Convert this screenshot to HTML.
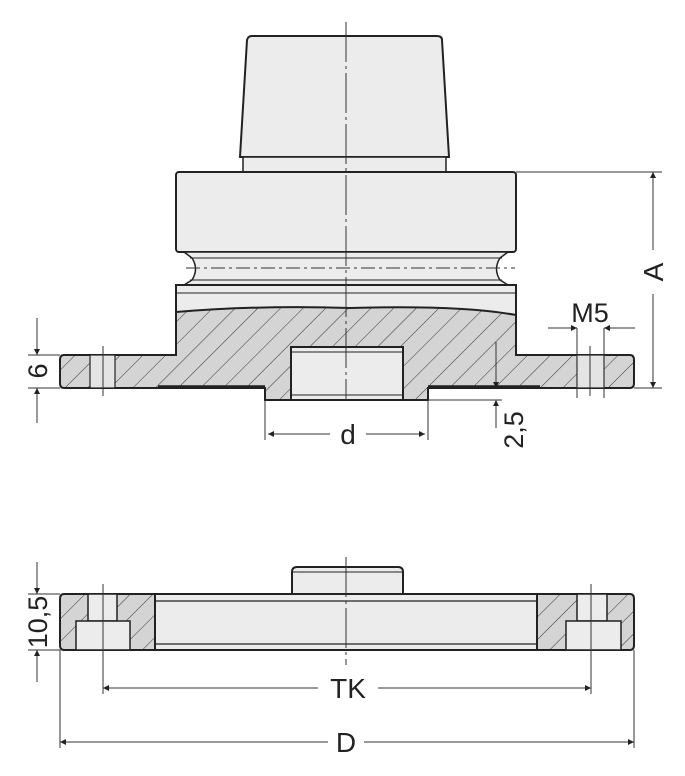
<!DOCTYPE html>
<html><head><meta charset="utf-8"><style>
html,body{margin:0;padding:0;background:#fff;}
svg{display:block;}
text{font-family:"Liberation Sans",sans-serif;fill:#222;}
</style></head><body>
<svg width="685" height="776" viewBox="0 0 685 776" xmlns="http://www.w3.org/2000/svg">
<defs>
<pattern id="h" patternUnits="userSpaceOnUse" width="16" height="16" patternTransform="rotate(45)">
<rect width="16" height="16" fill="#d4d4d4"/>
<line x1="0" y1="0" x2="0" y2="16" stroke="#333" stroke-width="1"/>
</pattern>
<marker id="a" viewBox="0 0 10 10" refX="10" refY="5" markerWidth="11" markerHeight="6" orient="auto-start-reverse" markerUnits="userSpaceOnUse"><path d="M0,0L10,5L0,10z" fill="#222"/></marker>
</defs>
<g stroke="#222" stroke-width="2" fill="#ececec">
<path d="M240,157 L247,40 Q248,36 252,36 L437,36 Q442,36 442,40 L449,157 Z"/>
<rect x="243" y="157" width="203" height="15" stroke-width="1.5"/>
<rect x="176" y="172" width="340" height="80" rx="3"/>
<path d="M184,252 L192,258 Q199,269 192,280 L184,285 L508,285 L500,280 Q493,269 500,258 L508,252 Z" stroke-width="1.5"/>
<line x1="190" y1="258" x2="502" y2="258" stroke-width="1"/>
<line x1="190" y1="280" x2="502" y2="280" stroke-width="1"/>
<rect x="176" y="285" width="340" height="70"/>
<line x1="176" y1="293" x2="516" y2="293" stroke-width="1"/>
<path d="M176,312 Q260,305 350,308 Q460,305 516,315 L516,355 L630,355 Q634,355 634,360 L634,383 Q634,388 630,388 L428,388 L428,400 L265,400 L265,388 L64,388 Q60,388 60,383 L60,360 Q60,355 64,355 L176,355 Z" fill="url(#h)"/>
<rect x="291" y="347" width="112" height="53" fill="#ececec"/>
<line x1="291" y1="352" x2="403" y2="352" stroke-width="1"/>
<line x1="291" y1="395" x2="403" y2="395" stroke-width="1"/>
<rect x="90" y="355" width="25" height="33" fill="#e4e4e4" stroke-width="1.2"/>
<rect x="577" y="355" width="27" height="33" fill="#e4e4e4" stroke-width="1.2"/>
<line x1="158" y1="387" x2="265" y2="387" stroke-width="3.5"/>
<line x1="428" y1="387" x2="540" y2="387" stroke-width="3.5"/>
</g>
<g stroke="#333" stroke-width="1" fill="none">
<line x1="103" y1="346" x2="103" y2="396"/>
<line x1="590" y1="346" x2="590" y2="396"/>
<line x1="346" y1="22" x2="346" y2="400" stroke-dasharray="40,4,3,4"/>
<line x1="186" y1="268" x2="515" y2="268" stroke-dasharray="14,4,3,4"/>
<line x1="516" y1="172" x2="662" y2="172"/>
<line x1="634" y1="388" x2="662" y2="388"/>
<line x1="653" y1="172" x2="653" y2="250" marker-start="url(#a)"/>
<line x1="653" y1="294" x2="653" y2="388" marker-end="url(#a)"/>
<line x1="577" y1="328" x2="577" y2="398"/>
<line x1="604" y1="328" x2="604" y2="398"/>
<line x1="548" y1="328" x2="577" y2="328" marker-end="url(#a)"/>
<line x1="635" y1="328" x2="604" y2="328" marker-end="url(#a)"/>
<line x1="28" y1="355" x2="60" y2="355"/>
<line x1="28" y1="388" x2="60" y2="388"/>
<line x1="37" y1="318" x2="37" y2="355" marker-end="url(#a)"/>
<line x1="37" y1="423" x2="37" y2="388" marker-end="url(#a)"/>
<line x1="265" y1="400" x2="265" y2="440"/>
<line x1="428" y1="400" x2="428" y2="440"/>
<line x1="268" y1="434" x2="330" y2="434" marker-start="url(#a)"/>
<line x1="366" y1="434" x2="425" y2="434" marker-end="url(#a)"/>
<line x1="428" y1="400" x2="502" y2="400"/>
<line x1="496" y1="342" x2="496" y2="388" marker-end="url(#a)"/>
<line x1="496" y1="428" x2="496" y2="400" marker-end="url(#a)"/>
</g>
<text x="0" y="0" font-size="28" transform="translate(663,272) rotate(-90)" text-anchor="middle">A</text>
<text x="590" y="322" font-size="27" text-anchor="middle">M5</text>
<text x="0" y="0" font-size="27" transform="translate(47,371) rotate(-90)" text-anchor="middle">6</text>
<text x="348" y="444" font-size="28" text-anchor="middle">d</text>
<text x="0" y="0" font-size="27" transform="translate(523,430) rotate(-90)" text-anchor="middle">2,5</text>

<g stroke="#222" stroke-width="2" fill="#ececec">
<path d="M292,594 L292,572 Q292,567 297,567 L398,567 Q403,567 403,572 L403,594 Z"/>
<line x1="292" y1="572" x2="403" y2="572" stroke-width="1"/>
<path d="M64,594 L630,594 Q634,594 634,599 L634,645 Q634,650 630,650 L64,650 Q60,650 60,645 L60,599 Q60,594 64,594 Z" fill="url(#h)"/>
<rect x="155" y="594" width="382" height="56" fill="#ececec"/>
<line x1="155" y1="601" x2="537" y2="601" stroke-width="1.2"/>
<line x1="155" y1="644" x2="537" y2="644" stroke-width="1.2"/>
<rect x="88" y="594" width="29" height="27" stroke-width="1.5"/>
<rect x="76" y="621" width="54" height="29" stroke-width="1.5"/>
<rect x="577" y="594" width="30" height="27" stroke-width="1.5"/>
<rect x="566" y="621" width="55" height="29" stroke-width="1.5"/>
</g>
<g stroke="#333" stroke-width="1" fill="none">
<line x1="346" y1="557" x2="346" y2="665" stroke-dasharray="40,4,3,4"/>
<line x1="103" y1="584" x2="103" y2="694"/>
<line x1="591" y1="584" x2="591" y2="694"/>
<line x1="60" y1="650" x2="60" y2="748"/>
<line x1="634" y1="650" x2="634" y2="748"/>
<line x1="28" y1="594" x2="60" y2="594"/>
<line x1="28" y1="650" x2="60" y2="650"/>
<line x1="37" y1="562" x2="37" y2="594" marker-end="url(#a)"/>
<line x1="37" y1="682" x2="37" y2="650" marker-end="url(#a)"/>
<line x1="103" y1="688" x2="318" y2="688" marker-start="url(#a)"/>
<line x1="378" y1="688" x2="591" y2="688" marker-end="url(#a)"/>
<line x1="60" y1="742" x2="328" y2="742" marker-start="url(#a)"/>
<line x1="364" y1="742" x2="634" y2="742" marker-end="url(#a)"/>
</g>
<text x="0" y="0" font-size="27" transform="translate(47,622) rotate(-90)" text-anchor="middle">10,5</text>
<text x="348" y="698" font-size="28" text-anchor="middle">TK</text>
<text x="346" y="752" font-size="28" text-anchor="middle">D</text>
</svg>
</body></html>
